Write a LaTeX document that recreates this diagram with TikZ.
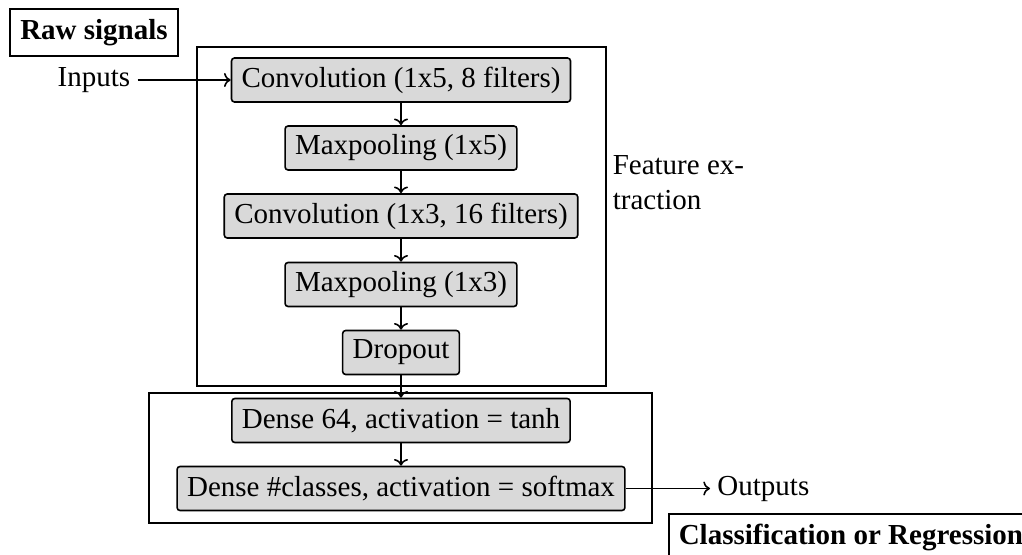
\documentclass[tikz,border=0pt]{standalone}
\usepackage{fontspec}
\setmainfont{Liberation Serif}
\usepackage{tikz}
\usetikzlibrary{arrows.meta,positioning}
\setlength{\parindent}{0pt}

\begin{document}
\begin{tikzpicture}[x=0.5pt, y=-0.5pt, line width=0.8pt, every node/.style={font=\fontsize{14.5}{17.4}\selectfont},
  layer/.style={draw, rounded corners=1.5pt, fill=gray!30, minimum height=22pt, inner xsep=5pt, inner ysep=3pt},
  frame/.style={draw, inner sep=0pt},
  tag/.style={draw, font=\fontsize{14.5}{17.4}\selectfont\bfseries, inner sep=5pt}]
  \useasboundingbox (0,0) rectangle (1022,555);
  % frames
  \node[frame, minimum width=204.5pt, minimum height=169.5pt] (feat) at (401.5,216.5) {};
  \node[frame, minimum width=251.5pt, minimum height=65pt] (clf) at (400.5,458) {};
  \node[tag, minimum width=84pt, minimum height=22.5pt] (raw) at (94,32.5) {Raw signals};
  \node[tag, anchor=north west, minimum height=22.5pt] (reg) at (668,513) {Classification or Regression};
  % layers
  \node[layer] (c1) at (401,80) {Convolution (1x5, 8 filters)};
  \node[layer] (p1) at (401,148) {Maxpooling (1x5)};
  \node[layer] (c2) at (401,216) {Convolution (1x3, 16 filters)};
  \node[layer] (p2) at (401,284.5) {Maxpooling (1x3)};
  \node[layer] (drop) at (401,352.5) {Dropout};
  \node[layer] (d1) at (401,420.5) {Dense 64, activation = tanh};
  \node[layer] (d2) at (401,488.5) {Dense \#classes, activation = softmax};
  \node (in) at (94,80) {Inputs};
  \node[anchor=west] (out) at (710,488.5) {Outputs};
  \node[anchor=west, align=left, inner sep=3pt] (featlbl) at (606,183) {Feature ex-\\traction};
  % arrows
  \draw[->] (in) -- (c1);
  \draw[->] (c1) -- (p1);
  \draw[->] (p1) -- (c2);
  \draw[->] (c2) -- (p2);
  \draw[->] (p2) -- (drop);
  \draw[->] (drop) -- (d1);
  \draw[->] (d1) -- (d2);
  \draw[->] (d2) -- (out);
\end{tikzpicture}
\end{document}
